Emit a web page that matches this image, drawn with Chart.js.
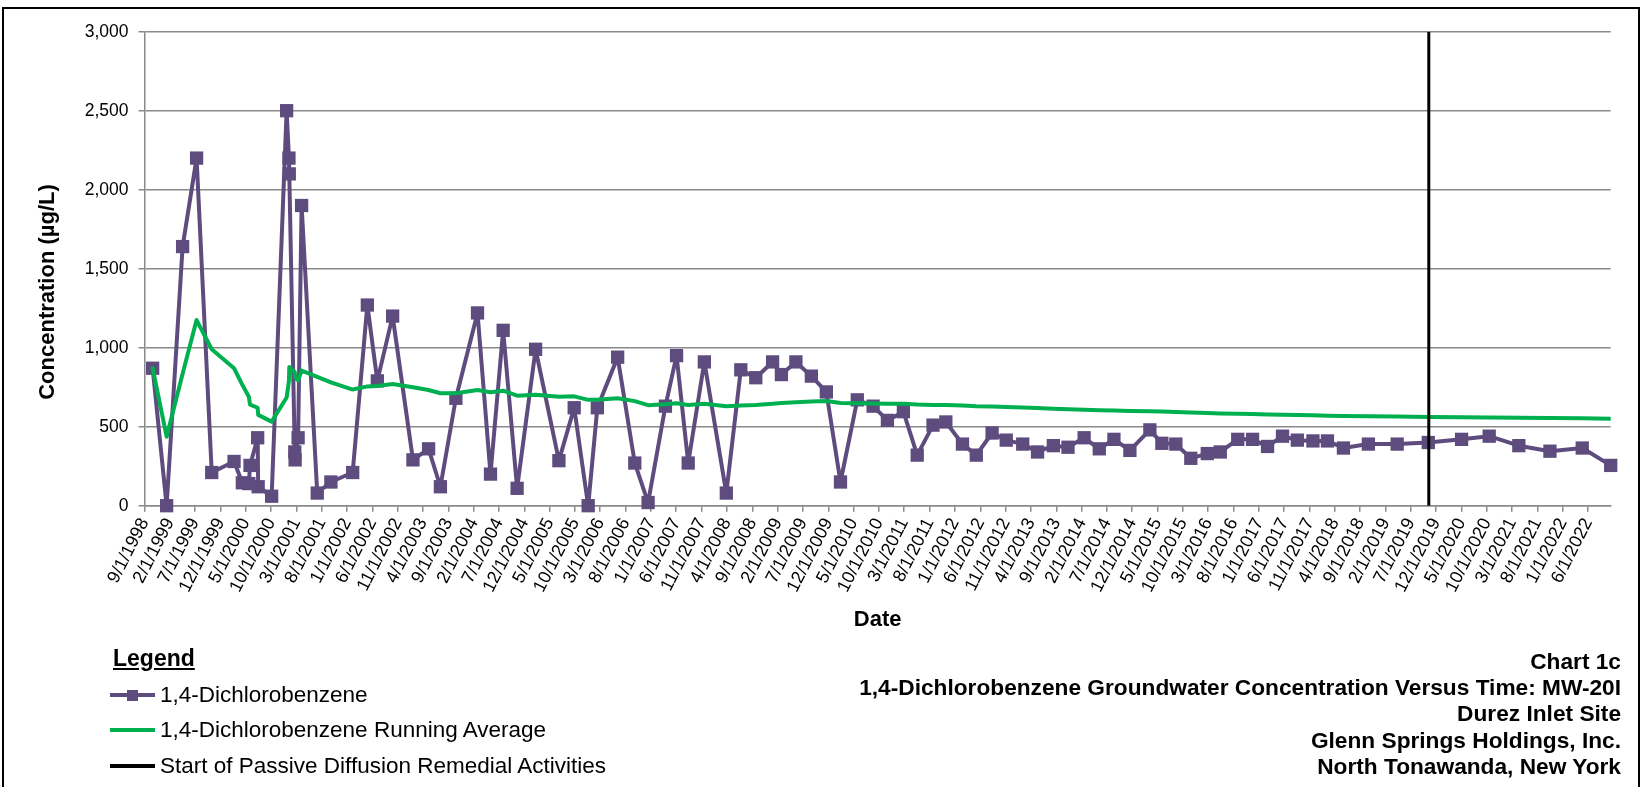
<!DOCTYPE html>
<html>
<head>
<meta charset="utf-8">
<title>Chart 1c - MW-20I</title>
<script src="https://cdn.jsdelivr.net/npm/chart.js@4.4.1/dist/chart.umd.min.js"></script>
<style>
    html, body { margin: 0; padding: 0; background: #fff; }
    body { width: 1643px; height: 787px; position: relative; overflow: hidden; font-family: 'Liberation Sans', Arial, sans-serif; color: #000; }
    #chart { position: absolute; left: 0; top: 0; }
    #frame { position: absolute; left: 2px; top: 7px; width: 1638px; height: 800px; border: 2px solid #000; box-sizing: border-box; pointer-events: none; }
    #yTitle { position: absolute; left: 47px; top: 292px; transform: translate(-50%, -50%) rotate(-90deg); font-weight: bold; font-size: 22px; white-space: nowrap; }
    .lg-title { position: absolute; left: 113px; top: 645px; font-weight: bold; font-size: 23px; line-height: 26px; text-decoration: underline; }
    .lg-item { position: absolute; left: 160px; font-size: 22.5px; line-height: 26px; white-space: nowrap; }
    .lg-line { position: absolute; left: 110px; width: 45px; height: 4px; }
    .lg-mark { position: absolute; left: 127px; width: 11px; height: 11px; }
    #titleBlock { position: absolute; right: 22px; top: 648px; text-align: right; font-weight: bold; font-size: 22.7px; line-height: 26.2px; white-space: nowrap; }
</style>
</head>
<body>
<canvas id="chart" width="1643" height="787"></canvas>
<div id="frame"></div>
<div id="yTitle">Concentration (µg/L)</div>

<div class="lg-title">Legend</div>
<div class="lg-line" style="top:693px; background:#5E4C7E;"></div>
<div class="lg-mark" style="top:689.5px; background:#5E4C7E;"></div>
<div class="lg-item" style="top:682px;">1,4-Dichlorobenzene</div>
<div class="lg-line" style="top:728px; background:#00B050;"></div>
<div class="lg-item" style="top:717px;">1,4-Dichlorobenzene Running Average</div>
<div class="lg-line" style="top:764px; background:#000;"></div>
<div class="lg-item" style="top:753px;">Start of Passive Diffusion Remedial Activities</div>

<div id="titleBlock">
    Chart 1c<br>
    1,4-Dichlorobenzene Groundwater Concentration Versus Time: MW-20I<br>
    Durez Inlet Site<br>
    Glenn Springs Holdings, Inc.<br>
    North Tonawanda, New York
</div>

<script>
// sample dates (M/D/YYYY)
const sampleDates = [
    '10/20/1998', '1/12/1999', '4/18/1999', '7/11/1999', '10/10/1999',
    '2/21/2000', '4/11/2000', '5/20/2000', '5/27/2000', '7/12/2000', '7/15/2000', '10/4/2000',
    '1/2/2001', '1/16/2001', '1/18/2001', '2/20/2001', '2/22/2001', '3/12/2001', '4/2/2001', '7/5/2001', '9/25/2001',
    '2/3/2002', '5/2/2002', '7/1/2002', '10/1/2002',
    '1/31/2003', '5/5/2003', '7/15/2003', '10/16/2003',
    '2/23/2004', '5/11/2004', '7/26/2004', '10/18/2004',
    '2/6/2005', '6/26/2005', '9/26/2005', '12/19/2005',
    '2/12/2006', '6/14/2006', '9/25/2006', '12/14/2006',
    '3/28/2007', '6/3/2007', '8/12/2007', '11/17/2007',
    '3/28/2008', '6/23/2008', '9/21/2008', '12/31/2008',
    '2/22/2009', '5/20/2009', '8/21/2009', '11/19/2009',
    '2/12/2010', '5/24/2010', '8/27/2010', '11/21/2010',
    '2/25/2011', '5/19/2011', '8/22/2011', '11/7/2011',
    '2/15/2012', '5/8/2012', '8/11/2012', '11/4/2012',
    '2/11/2013', '5/11/2013', '8/14/2013', '11/10/2013',
    '2/15/2014', '5/17/2014', '8/13/2014', '11/17/2014',
    '3/17/2015', '5/28/2015', '8/20/2015', '11/18/2015',
    '2/25/2016', '5/13/2016', '8/26/2016', '11/23/2016',
    '2/21/2017', '5/22/2017', '8/19/2017', '11/21/2017',
    '2/16/2018', '5/23/2018', '10/20/2018',
    '4/11/2019', '10/15/2019',
    '5/2/2020', '10/15/2020',
    '4/11/2021', '10/15/2021',
    '4/27/2022', '10/15/2022'
];

// 1,4-Dichlorobenzene (ug/L)
const dcbValues = [
    870, 0, 1640, 2200, 210,
    280, 145, 140, 255, 430, 120, 60,
    2500, 2200, 2100, 340, 290, 430, 1900, 80, 150,
    210, 1270, 790, 1200,
    290, 360, 120, 680,
    1220, 200, 1110, 110,
    990, 285, 620, 0,
    620, 940, 270, 20,
    630, 950, 270, 910,
    80, 860, 810, 910,
    830, 910, 820, 720,
    150, 670, 630, 540,
    595, 320, 510, 530,
    390, 320, 460, 415,
    390, 340, 380, 370,
    430, 360, 420, 350,
    480, 395, 390, 300,
    330, 340, 420, 420,
    375, 440, 415, 410,
    410, 365, 390,
    390, 400,
    420, 440,
    380, 345,
    365, 255
];

// running average
const runningAverage = [
    870, 437, 835, 1175, 990,
    870, 765, 690, 640, 620, 575, 532,
    685, 790, 878, 845, 812, 792, 855, 815, 780,
    735, 755, 758, 770,
    750, 732, 712, 712,
    732, 718, 728, 696,
    702, 690, 692, 670,
    670, 680, 662, 636,
    642, 648, 638, 645,
    630, 634, 638, 645,
    650, 655, 660, 662,
    650, 648, 647, 646,
    645, 640, 638, 637,
    634, 630, 628, 625,
    622, 618, 614, 611,
    608, 604, 602, 600,
    598, 596, 593, 590,
    587, 584, 582, 580,
    578, 576, 574, 572,
    570, 568, 566,
    564, 562,
    560, 559,
    557, 555,
    553, 550
];

const remedialStart = '10/18/2019';

const xTickLabels = [
    '9/1/1998', '2/1/1999', '7/1/1999', '12/1/1999', '5/1/2000', '10/1/2000', '3/1/2001', '8/1/2001',
    '1/1/2002', '6/1/2002', '11/1/2002', '4/1/2003', '9/1/2003', '2/1/2004', '7/1/2004', '12/1/2004',
    '5/1/2005', '10/1/2005', '3/1/2006', '8/1/2006', '1/1/2007', '6/1/2007', '11/1/2007', '4/1/2008',
    '9/1/2008', '2/1/2009', '7/1/2009', '12/1/2009', '5/1/2010', '10/1/2010', '3/1/2011', '8/1/2011',
    '1/1/2012', '6/1/2012', '11/1/2012', '4/1/2013', '9/1/2013', '2/1/2014', '7/1/2014', '12/1/2014',
    '5/1/2015', '10/1/2015', '3/1/2016', '8/1/2016', '1/1/2017', '6/1/2017', '11/1/2017', '4/1/2018',
    '9/1/2018', '2/1/2019', '7/1/2019', '12/1/2019', '5/1/2020', '10/1/2020', '3/1/2021', '8/1/2021',
    '1/1/2022', '6/1/2022'
];
const xAxisStart = '9/1/1998';
const xAxisEnd = '10/15/2022';

const yMin = 0;
const yMax = 3000;
const yStep = 500;

document.addEventListener('DOMContentLoaded', function () {
    const purple = '#5E4C7E';
    const green = '#00B050';
    const gridGray = '#8A8A8A';

    // day number from M/D/YYYY
    function toDay(str) {
        const parts = str.split('/').map(Number);
        return Date.UTC(parts[2], parts[0] - 1, parts[1]) / 86400000;
    }

    function dayLabel(day) {
        const d = new Date(Math.round(day) * 86400000);
        return (d.getUTCMonth() + 1) + '/' + d.getUTCDate() + '/' + d.getUTCFullYear();
    }

    const sampleDays = sampleDates.map(toDay);
    const tickDays = xTickLabels.map(toDay);
    const startDay = toDay(remedialStart);

    Chart.defaults.font.family = "'Liberation Sans', Arial, sans-serif";
    Chart.defaults.color = '#000';

    const ctx = document.getElementById('chart').getContext('2d');
    new Chart(ctx, {
        type: 'line',
        data: {
            datasets: [
                {
                    label: 'Start of Passive Diffusion Remedial Activities',
                    data: [{ x: startDay, y: yMin }, { x: startDay, y: yMax }],
                    borderColor: '#000',
                    borderWidth: 3,
                    pointRadius: 0,
                    order: 0
                },
                {
                    label: '1,4-Dichlorobenzene Running Average',
                    data: sampleDays.map((x, i) => ({ x: x, y: runningAverage[i] })),
                    borderColor: green,
                    borderWidth: 4,
                    borderJoinStyle: 'round',
                    borderCapStyle: 'round',
                    pointRadius: 0,
                    tension: 0,
                    order: 1
                },
                {
                    label: '1,4-Dichlorobenzene',
                    data: sampleDays.map((x, i) => ({ x: x, y: dcbValues[i] })),
                    borderColor: purple,
                    backgroundColor: purple,
                    borderWidth: 4,
                    borderJoinStyle: 'round',
                    pointStyle: 'rect',
                    pointRadius: 9.4,
                    pointBorderWidth: 0,
                    pointBackgroundColor: purple,
                    tension: 0,
                    clip: false,
                    order: 2
                }
            ]
        },
        options: {
            responsive: false,
            animation: false,
            devicePixelRatio: 1,
            layout: {
                padding: { top: 31.7, right: 32.3, left: 0, bottom: 0 }
            },
            plugins: {
                legend: { display: false },
                tooltip: { enabled: false }
            },
            scales: {
                x: {
                    type: 'linear',
                    min: toDay(xAxisStart),
                    max: toDay(xAxisEnd),
                    afterBuildTicks: function (scale) {
                        scale.ticks = tickDays.map(v => ({ value: v }));
                    },
                    afterFit: function (scale) {
                        scale.height = 787 - 505.7;
                    },
                    ticks: {
                        autoSkip: false,
                        minRotation: 63,
                        maxRotation: 63,
                        padding: 3,
                        font: { size: 18 },
                        color: '#000',
                        callback: function (value) {
                            return dayLabel(value);
                        }
                    },
                    grid: {
                        drawOnChartArea: false,
                        drawTicks: true,
                        tickLength: 6,
                        color: gridGray,
                        lineWidth: 1.5
                    },
                    border: { color: gridGray, width: 1.5 },
                    title: {
                        display: true,
                        text: 'Date',
                        color: '#000',
                        font: { size: 22, weight: 'bold' },
                        padding: { top: 0, bottom: 154 }
                    }
                },
                y: {
                    min: yMin,
                    max: yMax,
                    afterFit: function (scale) {
                        scale.width = 144.5;
                    },
                    ticks: {
                        stepSize: yStep,
                        padding: 10,
                        font: { size: 17.5 },
                        color: '#000',
                        callback: function (value) {
                            return value.toLocaleString('en-US');
                        }
                    },
                    grid: {
                        color: gridGray,
                        lineWidth: 1.5,
                        tickLength: 6
                    },
                    border: { color: gridGray, width: 1.5 }
                }
            }
        }
    });
});
</script>
</body>
</html>
